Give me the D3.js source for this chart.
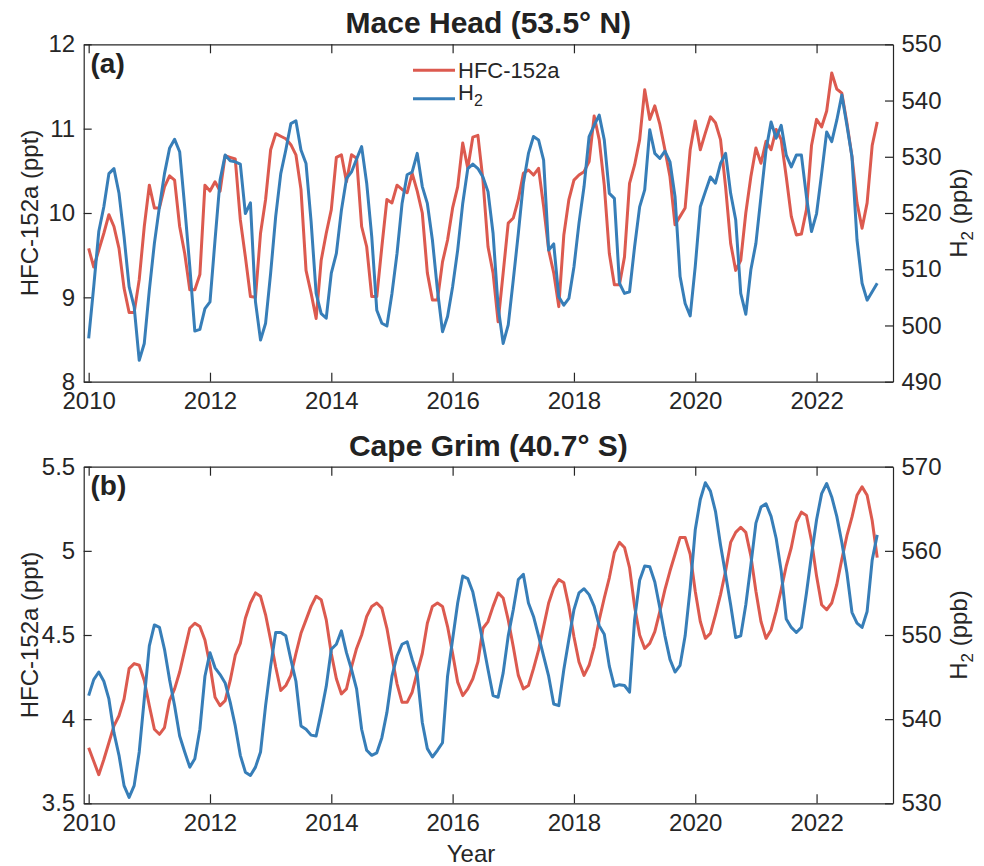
<!DOCTYPE html>
<html>
<head>
<meta charset="utf-8">
<script src="https://cdn.jsdelivr.net/npm/d3@7"></script>
<style>
body { margin: 0; background: #fff; }
svg { display: block; font-family: "Liberation Sans", Arial, Helvetica, sans-serif; }
.axis path, .axis line { stroke: #262626; stroke-width: 1.2; }
.axis text { fill: #262626; font-size: 24px; font-family: "Liberation Sans", Arial, Helvetica, sans-serif; }
</style>
</head>
<body>
<div id="chart"></div>
<script>
// monthly means, first value = Jan 2010
const startYear = 2010;

const maceHFC = [
	9.58, 9.36, 9.56, 9.76, 9.98, 9.84, 9.58, 9.11, 8.82, 8.82, 9.21, 9.84,
	10.33, 10.06, 10.06, 10.31, 10.44, 10.39, 9.84, 9.52, 9.09, 9.09, 9.27, 10.33,
	10.26, 10.37, 10.26, 10.68, 10.66, 10.64, 9.92, 9.48, 9.01, 9.00, 9.76, 10.16,
	10.75, 10.94, 10.91, 10.88, 10.81, 10.69, 10.28, 9.32, 9.05, 8.75, 9.44, 9.76,
	10.04, 10.66, 10.69, 10.37, 10.69, 10.65, 9.84, 9.60, 9.01, 9.01, 9.60, 10.16,
	10.12, 10.33, 10.28, 10.24, 10.47, 10.26, 10.00, 9.29, 8.97, 8.97, 9.42, 9.68,
	10.06, 10.31, 10.83, 10.53, 10.90, 10.92, 10.39, 9.60, 9.29, 8.71, 9.29, 9.88,
	9.94, 10.16, 10.47, 10.51, 10.45, 10.53, 10.08, 9.56, 9.29, 8.89, 9.74, 10.16,
	10.39, 10.45, 10.49, 10.61, 11.15, 10.87, 10.33, 9.52, 9.15, 9.15, 9.48, 10.35,
	10.57, 10.87, 11.46, 11.11, 11.27, 11.05, 10.75, 10.43, 9.86, 9.96, 10.06, 10.75,
	11.09, 10.75, 10.95, 11.14, 11.07, 10.87, 10.31, 9.64, 9.32, 9.44, 10.00, 10.43,
	10.77, 10.59, 10.85, 10.75, 10.99, 10.87, 10.43, 9.96, 9.74, 9.75, 10.04, 10.80,
	11.11, 11.02, 11.21, 11.66, 11.47, 11.42, 11.07, 10.67, 10.12, 9.82, 10.12, 10.80,
	11.08
];
const maceH2 = [
	497.7, 506.9, 516.7, 521.1, 527.0, 527.9, 523.5, 515.8, 506.9, 503.3, 493.8, 496.8,
	506.3, 514.6, 521.1, 527.0, 531.5, 533.1, 530.9, 521.1, 510.5, 499.0, 499.3, 503.0,
	504.2, 515.2, 525.9, 530.3, 529.3, 529.1, 528.7, 519.9, 521.8, 504.2, 497.4, 500.4,
	509.3, 519.4, 527.0, 531.2, 535.9, 536.4, 531.2, 528.8, 518.5, 505.7, 502.1, 501.3,
	509.3, 512.8, 520.5, 526.1, 527.3, 529.6, 531.8, 525.3, 515.8, 502.7, 500.4, 499.9,
	505.7, 512.8, 521.7, 526.8, 527.3, 530.6, 524.7, 521.7, 515.2, 506.3, 498.9, 501.6,
	506.9, 513.4, 521.7, 527.9, 528.7, 527.9, 526.4, 523.8, 516.4, 503.3, 496.8, 500.1,
	508.1, 516.4, 525.3, 530.6, 533.6, 533.0, 529.4, 513.4, 514.5, 505.1, 503.6, 504.8,
	510.4, 518.2, 524.7, 533.6, 535.6, 537.4, 533.0, 523.5, 522.6, 507.5, 505.7, 506.0,
	514.0, 521.1, 524.1, 534.8, 530.6, 529.7, 531.0, 529.1, 522.9, 508.7, 503.9, 501.7,
	510.5, 521.1, 523.8, 526.4, 525.3, 528.8, 530.6, 523.5, 518.8, 505.7, 502.0, 509.9,
	514.6, 522.9, 531.2, 536.2, 533.3, 535.6, 530.3, 528.2, 530.3, 530.3, 522.9, 516.7,
	519.9, 527.0, 534.4, 532.7, 536.5, 541.0, 535.6, 530.0, 515.2, 507.5, 504.5, 506.0,
	507.5
];
const capeHFC = [
	3.83, 3.75, 3.67, 3.76, 3.86, 3.96, 4.02, 4.12, 4.30, 4.33, 4.32, 4.23,
	4.08, 3.94, 3.91, 3.95, 4.11, 4.18, 4.28, 4.41, 4.54, 4.57, 4.55, 4.47,
	4.32, 4.13, 4.08, 4.11, 4.23, 4.38, 4.45, 4.60, 4.69, 4.75, 4.73, 4.62,
	4.47, 4.31, 4.17, 4.20, 4.26, 4.39, 4.51, 4.59, 4.67, 4.73, 4.71, 4.59,
	4.39, 4.24, 4.15, 4.18, 4.31, 4.42, 4.50, 4.61, 4.67, 4.69, 4.66, 4.54,
	4.37, 4.21, 4.10, 4.10, 4.16, 4.28, 4.39, 4.57, 4.67, 4.69, 4.67, 4.55,
	4.39, 4.22, 4.14, 4.18, 4.24, 4.34, 4.54, 4.58, 4.67, 4.75, 4.72, 4.59,
	4.43, 4.26, 4.18, 4.20, 4.30, 4.41, 4.55, 4.69, 4.78, 4.83, 4.81, 4.67,
	4.49, 4.34, 4.26, 4.32, 4.43, 4.59, 4.72, 4.84, 4.99, 5.05, 5.02, 4.90,
	4.67, 4.50, 4.42, 4.45, 4.52, 4.64, 4.77, 4.88, 4.98, 5.08, 5.08, 4.98,
	4.76, 4.58, 4.48, 4.51, 4.62, 4.74, 4.88, 5.05, 5.11, 5.14, 5.11, 4.97,
	4.76, 4.58, 4.48, 4.53, 4.64, 4.77, 4.91, 5.02, 5.17, 5.23, 5.21, 5.06,
	4.85, 4.68, 4.65, 4.69, 4.80, 4.95, 5.09, 5.20, 5.33, 5.38, 5.33, 5.18,
	4.96
];
const capeH2 = [
	542.8, 544.7, 545.6, 544.5, 542.4, 538.4, 535.7, 532.1, 530.7, 532.1, 536.1, 542.4,
	548.7, 551.2, 550.9, 548.3, 544.7, 541.6, 538.0, 536.1, 534.3, 535.3, 538.8, 545.1,
	547.9, 546.1, 545.3, 544.3, 542.0, 539.2, 535.7, 533.7, 533.3, 534.3, 536.1, 541.6,
	546.3, 550.3, 550.3, 549.9, 547.1, 544.5, 539.2, 538.8, 538.1, 538.0, 540.8, 543.9,
	548.3, 548.9, 550.5, 547.9, 545.9, 543.6, 538.8, 536.3, 535.7, 536.0, 537.8, 540.8,
	545.1, 547.5, 548.9, 549.2, 547.1, 545.3, 539.6, 536.5, 535.5, 536.3, 537.2, 545.1,
	549.5, 553.8, 557.0, 556.7, 555.1, 552.2, 549.1, 545.9, 542.8, 542.6, 545.5, 549.9,
	553.0, 556.6, 557.2, 553.8, 552.2, 549.9, 547.5, 545.1, 541.8, 541.6, 545.9, 549.5,
	553.0, 555.0, 555.5, 554.8, 553.4, 551.1, 550.1, 546.3, 543.9, 544.1, 544.0, 543.2,
	551.8, 556.5, 558.2, 558.1, 556.3, 553.2, 549.9, 547.1, 545.6, 546.4, 549.9, 555.6,
	562.5, 566.1, 568.1, 567.1, 564.7, 560.7, 557.2, 553.6, 549.7, 549.9, 553.6, 558.3,
	563.3, 565.2, 565.6, 564.1, 561.5, 557.6, 551.9, 550.9, 550.3, 550.9, 555.0, 559.5,
	563.7, 566.8, 568.0, 566.4, 564.1, 561.0, 557.4, 552.7, 551.4, 550.9, 552.8, 558.9,
	561.9
];

const xTicks = [2010, 2012, 2014, 2016, 2018, 2020, 2022];
const maceHfcTicks = [8, 9, 10, 11, 12];
const maceH2Ticks = [490, 500, 510, 520, 530, 540, 550];
const capeHfcTicks = [3.5, 4, 4.5, 5, 5.5];
const capeH2Ticks = [530, 540, 550, 560, 570];

const seriesNames = ["HFC-152a", "H2"];
const colors = { hfc: "#dc5a4f", h2: "#377eb8" };

const [width, height] = [984, 866];
const plot = { left: 83.7, right: 893 };

const svg = d3.select("#chart").append("svg").attr("width", width).attr("height", height);

const x = d3.scaleLinear().domain([2009.918, 2023.26]).range([plot.left, plot.right]);
const t = (d, i) => x(startYear + i / 12);

const drawPanel = (p) => {
	const yL = d3.scaleLinear().domain(p.hfcDomain).range([p.bottom, p.top]);
	const yR = d3.scaleLinear().domain(p.h2Domain).range([p.bottom, p.top]);
	const g = svg.append("g");

	g.append("g").attr("class", "axis").attr("transform", `translate(0, ${p.bottom})`)
	.call(d3.axisBottom(x).tickValues(xTicks).tickFormat(d => d).tickSizeInner(-9).tickSizeOuter(0).tickPadding(10.5));
	g.append("g").attr("class", "axis").attr("transform", `translate(0, ${p.top})`)
	.call(d3.axisTop(x).tickValues(xTicks).tickFormat("").tickSizeInner(-9).tickSizeOuter(0));
	g.append("g").attr("class", "axis").attr("transform", `translate(${plot.left}, 0)`)
	.call(d3.axisLeft(yL).tickValues(p.hfcTicks).tickFormat(d => d).tickSizeInner(-8).tickSizeOuter(0).tickPadding(8.5));
	g.append("g").attr("class", "axis").attr("transform", `translate(${plot.right}, 0)`)
	.call(d3.axisRight(yR).tickValues(p.h2Ticks).tickFormat(d => d).tickSizeInner(-8).tickSizeOuter(0).tickPadding(8.5));

	g.append("path").datum(p.hfc)
	.attr("d", d3.line().x(t).y(d => yL(d)))
	.attr("fill", "none").attr("stroke", colors.hfc).attr("stroke-width", 3).attr("stroke-linejoin", "round");
	g.append("path").datum(p.h2)
	.attr("d", d3.line().x(t).y(d => yR(d)))
	.attr("fill", "none").attr("stroke", colors.h2).attr("stroke-width", 3).attr("stroke-linejoin", "round");

	g.append("text").attr("x", (plot.left + plot.right) / 2).attr("y", p.top - 11)
	.attr("text-anchor", "middle").attr("font-size", 30).attr("font-weight", "bold").attr("fill", "#222")
	.text(p.title);
	g.append("text").attr("x", 90.5).attr("y", p.top + 28.5)
	.attr("font-size", 28).attr("font-weight", "bold").attr("fill", "#222")
	.text(p.tag);

	const mid = (p.top + p.bottom) / 2;
	g.append("text").attr("transform", `translate(38, ${mid}) rotate(-90)`)
	.attr("text-anchor", "middle").attr("font-size", 24).attr("fill", "#262626")
	.text(`${seriesNames[0]} (ppt)`);
	const rl = g.append("text").attr("transform", `translate(967, ${mid}) rotate(-90)`)
	.attr("text-anchor", "middle").attr("font-size", 24).attr("fill", "#262626");
	rl.append("tspan").text("H");
	rl.append("tspan").attr("dy", 6).attr("font-size", 17).text("2");
	rl.append("tspan").attr("dy", -6).text(" (ppb)");

	if (p.legend) {
		const lg = g.append("g");
		[[colors.hfc, 70.3], [colors.h2, 98.7]].forEach(([c, y]) => {
			lg.append("line").attr("x1", 413).attr("x2", 455).attr("y1", y).attr("y2", y)
			.attr("stroke", c).attr("stroke-width", 3);
		});
		lg.append("text").attr("x", 458).attr("y", 77.5).attr("font-size", 22).attr("fill", "#262626").text(seriesNames[0]);
		const h = lg.append("text").attr("x", 458).attr("y", 100).attr("font-size", 22).attr("fill", "#262626");
		h.append("tspan").text("H");
		h.append("tspan").attr("dy", 6).attr("font-size", 16).text("2");
	}
};

drawPanel({ top: 44.3, bottom: 381.7, title: "Mace Head (53.5° N)", tag: "(a)", hfc: maceHFC, h2: maceH2,
	hfcDomain: [8, 12], h2Domain: [490, 550], hfcTicks: maceHfcTicks, h2Ticks: maceH2Ticks, legend: true });
drawPanel({ top: 466.7, bottom: 803.3, title: "Cape Grim (40.7° S)", tag: "(b)", hfc: capeHFC, h2: capeH2,
	hfcDomain: [3.5, 5.5], h2Domain: [530, 570], hfcTicks: capeHfcTicks, h2Ticks: capeH2Ticks, legend: false });

svg.append("text").attr("x", 471).attr("y", 861.5).attr("text-anchor", "middle")
.attr("font-size", 24).attr("fill", "#262626").text("Year");
</script>
</body>
</html>
